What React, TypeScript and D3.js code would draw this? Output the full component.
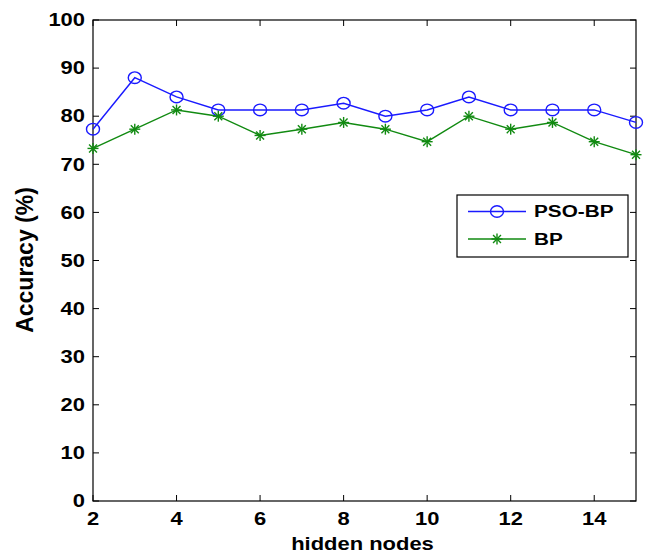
import React from "react";
import * as d3 from "d3";

const hiddenNodes = [2, 3, 4, 5, 6, 7, 8, 9, 10, 11, 12, 13, 14, 15];
const psoBP = [77.3, 88, 84, 81.3, 81.3, 81.3, 82.7, 80, 81.3, 84, 81.3, 81.3, 81.3, 78.7];
const bp = [73.3, 77.3, 81.3, 80, 76, 77.3, 78.7, 77.3, 74.7, 80, 77.3, 78.7, 74.7, 72];
const xTicks = [2, 4, 6, 8, 10, 12, 14];
const yTicks = [0, 10, 20, 30, 40, 50, 60, 70, 80, 90, 100];
const seriesNames = ["PSO-BP", "BP"];

const W = 650;
const H = 553;
const M = { left: 93, right: 636, top: 20, bottom: 501 };
const FONT = "'Liberation Sans', Arial, sans-serif";
const SX = 1.22;
const BLUE = "#1a1aff";
const GREEN = "#118a11";

function Star({ x, y, color }: { x: number; y: number; color: string }) {
  const r = 5.5;
  const d = r * 0.72;
  return (
    <g stroke={color} strokeWidth={1.4}>
      <line x1={x - r} y1={y} x2={x + r} y2={y} />
      <line x1={x} y1={y - r} x2={x} y2={y + r} />
      <line x1={x - d} y1={y - d} x2={x + d} y2={y + d} />
      <line x1={x - d} y1={y + d} x2={x + d} y2={y - d} />
    </g>
  );
}

function Circ({ x, y, color }: { x: number; y: number; color: string }) {
  return <ellipse cx={x} cy={y} rx={6.5} ry={5.8} fill="none" stroke={color} strokeWidth={1.4} />;
}

function Txt({ x, y, anchor, size, children }: any) {
  return (
    <text
      transform={`translate(${x},${y}) scale(${SX},1)`}
      textAnchor={anchor}
      dominantBaseline="central"
      fontFamily={FONT}
      fontWeight="bold"
      fontSize={size}
      fill="#000"
    >
      {children}
    </text>
  );
}

export default function App() {
  const x = d3.scaleLinear().domain([2, 15]).range([M.left, M.right]);
  const y = d3.scaleLinear().domain([0, 100]).range([M.bottom, M.top]);
  const line = d3
    .line<number>()
    .x((_, i) => x(hiddenNodes[i]))
    .y((v) => y(v));

  const tl = 6;
  const lx0 = 457, lx1 = 628, ly0 = 195, ly1 = 257;
  const rows = [211.5, 239];

  return (
    <svg width={W} height={H} style={{ position: "absolute", left: 0, top: 0, background: "#fff" }}>
      <rect x={0} y={0} width={W} height={H} fill="#fff" />
      {/* ticks */}
      {yTicks.map((t) => (
        <g key={"y" + t}>
          <line x1={M.left} x2={M.left + tl} y1={y(t)} y2={y(t)} stroke="#000" />
          <line x1={M.right} x2={M.right - tl} y1={y(t)} y2={y(t)} stroke="#000" />
          <Txt x={M.left - 8} y={y(t)} anchor="end" size={18}>{t}</Txt>
        </g>
      ))}
      {xTicks.map((t) => (
        <g key={"x" + t}>
          <line x1={x(t)} x2={x(t)} y1={M.bottom} y2={M.bottom - tl} stroke="#000" />
          <line x1={x(t)} x2={x(t)} y1={M.top} y2={M.top + tl} stroke="#000" />
          <Txt x={x(t)} y={M.bottom + 18} anchor="middle" size={18}>{t}</Txt>
        </g>
      ))}
      <rect
        x={M.left}
        y={M.top}
        width={M.right - M.left}
        height={M.bottom - M.top}
        fill="none"
        stroke="#000"
        strokeWidth={1.2}
      />
      {/* series */}
      <path d={line(psoBP) || ""} fill="none" stroke={BLUE} strokeWidth={1.4} />
      <path d={line(bp) || ""} fill="none" stroke={GREEN} strokeWidth={1.4} />
      {psoBP.map((v, i) => (
        <Circ key={"p" + i} x={x(hiddenNodes[i])} y={y(v)} color={BLUE} />
      ))}
      {bp.map((v, i) => (
        <Star key={"b" + i} x={x(hiddenNodes[i])} y={y(v)} color={GREEN} />
      ))}
      {/* axis labels */}
      <Txt x={(M.left + M.right) / 2 - 2} y={544} anchor="middle" size={18}>hidden nodes</Txt>
      <text
        transform={`translate(25,260) rotate(-90)`}
        textAnchor="middle"
        dominantBaseline="central"
        fontFamily={FONT}
        fontWeight="bold"
        fontSize={23}
        fill="#000"
      >
        Accuracy (%)
      </text>
      {/* legend */}
      <rect x={lx0} y={ly0} width={lx1 - lx0} height={ly1 - ly0} fill="#fff" stroke="#000" strokeWidth={1.2} />
      {seriesNames.map((n, i) => (
        <g key={n}>
          <line x1={468} x2={526} y1={rows[i]} y2={rows[i]} stroke={i === 0 ? BLUE : GREEN} strokeWidth={1.4} />
          {i === 0 ? (
            <Circ x={497} y={rows[i]} color={BLUE} />
          ) : (
            <Star x={497} y={rows[i]} color={GREEN} />
          )}
          <Txt x={534} y={rows[i]} anchor="start" size={17}>{n}</Txt>
        </g>
      ))}
    </svg>
  );
}
